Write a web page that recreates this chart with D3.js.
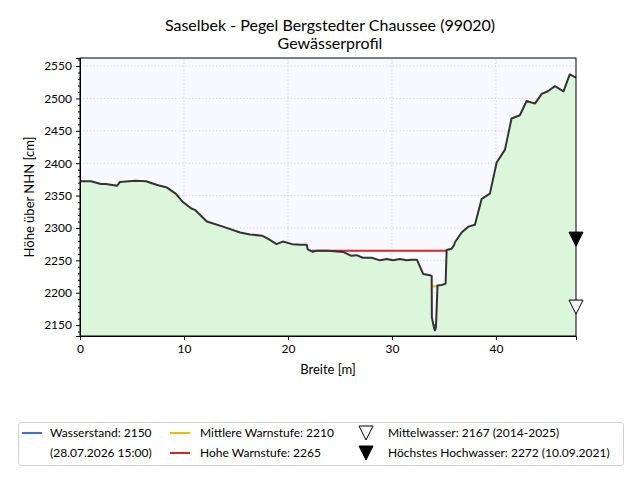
<!DOCTYPE html>
<html>
<head>
<meta charset="utf-8">
<script src="https://cdn.jsdelivr.net/npm/d3@7"></script>
<style>
  body { margin: 0; background: #fff; }
  svg { font-family: Lato, "Open Sans", sans-serif; }
</style>
</head>
<body>
<div id="chart"></div>
<script>
// Gewässerprofil (Breite in m, Höhe in cm über NHN)
const profileX = [0, 1.06, 2.0, 2.5, 3.56, 3.85, 5.3, 6.35, 7.5, 8.3, 9.2, 9.9, 10.7, 11.05,
    12.2, 13.75, 15.4, 16.35, 17.5, 18.1, 18.9, 19.5, 20.4, 21.25, 21.8, 21.9, 22.4, 22.75,
    23.85, 25.3, 26.1, 26.6, 27.2, 28.05, 28.85, 29.5, 30.1, 30.77, 31.4, 31.9, 32.4, 33.0,
    33.65, 33.82, 33.84, 34.04, 34.13, 34.23, 34.38, 34.78, 35.16, 35.26, 35.74, 35.96, 36.06,
    36.7, 37.34, 37.98, 38.63, 39.42, 40.07, 40.87, 41.5, 42.3, 42.95, 43.75, 44.4, 45.0,
    45.67, 46.5, 47.1, 47.7];
const profileY = [2372, 2372, 2368, 2368, 2365, 2371, 2373, 2372, 2366, 2363, 2353, 2340, 2330, 2328,
    2310, 2302, 2293, 2290, 2288, 2283, 2275, 2279, 2275, 2274, 2274, 2267, 2263, 2265,
    2265, 2263, 2257, 2258, 2254, 2254, 2250, 2252, 2250, 2252, 2250, 2251, 2251, 2229,
    2227, 2226, 2162, 2146, 2142, 2146, 2211, 2212, 2214, 2266, 2268, 2273, 2278,
    2293, 2302, 2305, 2345, 2353, 2401, 2421, 2469, 2474, 2496, 2492, 2507, 2511,
    2519, 2511, 2537, 2532];

const levelNames = ["Wasserstand", "Mittlere Warnstufe", "Hohe Warnstufe"];
const levelValues = [2150, 2210, 2265];
const levelColors = ["#4169e1", "#ffb400", "#d62728"];

const markNames = ["Mittelwasser", "Höchstes Hochwasser"];
const markValues = [2167, 2272];
const markNotes = ["(2014-2025)", "(10.09.2021)"];
const markFilled = [false, true];

const xTicks = [0, 10, 20, 30, 40];
const yTicks = [2150, 2200, 2250, 2300, 2350, 2400, 2450, 2500, 2550];

const width = 640, height = 480;
const margin = { top: 58, right: 64, bottom: 144, left: 80 };

const svg = d3.select("#chart").append("svg")
    .attr("width", width).attr("height", height);

const x = d3.scaleLinear().domain([0, 47.7]).range([margin.left, width - margin.right]);
const y = d3.scaleLinear().domain([2133.2, 2562.4]).range([height - margin.bottom, margin.top]);

const profile = profileX.map((d, i) => [d, profileY[i]]);

// plot background
svg.append("rect")
    .attr("x", x(0)).attr("y", y(2562.4))
    .attr("width", x(47.7) - x(0)).attr("height", y(2133.2) - y(2562.4))
    .attr("fill", "#f8f8ff");

// grid
const grid = svg.append("g").attr("stroke", "#c8c8c8").attr("stroke-width", 0.8)
    .attr("stroke-dasharray", "1.2,2.2");
grid.selectAll(".gx").data(xTicks.slice(1)).join("line")
    .attr("x1", d => x(d)).attr("x2", d => x(d))
    .attr("y1", y.range()[0]).attr("y2", y.range()[1]);
grid.selectAll(".gy").data(yTicks).join("line")
    .attr("y1", d => y(d)).attr("y2", d => y(d))
    .attr("x1", x.range()[0]).attr("x2", x.range()[1]);

// terrain fill
svg.append("path").datum(profile)
    .attr("fill", "#dcf6dc")
    .attr("d", d3.area().x(d => x(d[0])).y0(y(2133.2)).y1(d => y(d[1])));

// water level lines: continuous span around the deepest point
function span(level) {
    let m = d3.minIndex(profileY);
    let l = m, r = m;
    while (l > 0 && profileY[l - 1] <= level) l--;
    while (r < profileY.length - 1 && profileY[r + 1] <= level) r++;
    const cross = (a, b) => profileX[a] + (profileX[b] - profileX[a]) * (level - profileY[a]) / (profileY[b] - profileY[a]);
    return [l > 0 ? cross(l - 1, l) : profileX[0], r < profileY.length - 1 ? cross(r, r + 1) : profileX[r]];
}
levelValues.forEach((v, i) => {
    const s = span(v);
    svg.append("line")
        .attr("x1", x(s[0])).attr("x2", x(s[1]))
        .attr("y1", y(v)).attr("y2", y(v))
        .attr("stroke", levelColors[i]).attr("stroke-width", 2);
});

// terrain line
svg.append("path").datum(profile)
    .attr("fill", "none").attr("stroke", "#333").attr("stroke-width", 2)
    .attr("stroke-linejoin", "round")
    .attr("d", d3.line().x(d => x(d[0])).y(d => y(d[1])));

// axes
const gx = svg.append("g").attr("transform", `translate(0,${y.range()[0]})`)
    .call(d3.axisBottom(x).tickValues(xTicks).tickSize(4).tickPadding(4));
const gy = svg.append("g").attr("transform", `translate(${x.range()[0]},0)`)
    .call(d3.axisLeft(y).tickValues(yTicks).tickFormat(d3.format("d")).tickSize(4).tickPadding(4));
svg.append("g").attr("transform", `translate(${x.range()[0]},0)`)
    .call(d3.axisLeft(y).tickValues(d3.range(2140, 2561, 10).filter(d => d % 50)).tickSize(2).tickFormat(""))
    .call(g => g.select(".domain").remove());
[gx, gy].forEach(g => g.selectAll("text").attr("font-size", 12).attr("fill", "#000")
    .attr("font-family", "Lato, sans-serif"));

// frame
svg.append("rect")
    .attr("x", x.range()[0]).attr("y", y.range()[1])
    .attr("width", x.range()[1] - x.range()[0]).attr("height", y.range()[0] - y.range()[1])
    .attr("fill", "none").attr("stroke", "#000").attr("stroke-width", 1);

// markers at right edge (tip at value)
const tri = "M-7,-14L7,-14L0,0Z";
markValues.forEach((v, i) => {
    svg.append("path")
        .attr("transform", `translate(${x(47.7)},${y(v)})`)
        .attr("d", tri)
        .attr("fill", markFilled[i] ? "#000" : "#fff")
        .attr("stroke", "#000").attr("stroke-width", 1);
});

// titles
svg.append("text").attr("x", 330).attr("y", 31).attr("text-anchor", "middle")
    .attr("font-size", 16).text("Saselbek - Pegel Bergstedter Chaussee (99020)");
svg.append("text").attr("x", 330).attr("y", 49).attr("text-anchor", "middle")
    .attr("font-size", 16).text("Gewässerprofil");
svg.append("text").attr("x", (x.range()[0] + x.range()[1]) / 2).attr("y", 374)
    .attr("text-anchor", "middle").attr("font-size", 13).text("Breite [m]");
svg.append("text").attr("transform", `translate(34,${(y.range()[0] + y.range()[1]) / 2}) rotate(-90)`)
    .attr("text-anchor", "middle").attr("font-size", 13).text("Höhe über NHN [cm]");

// legend
const lg = svg.append("g").attr("font-size", 12);
lg.append("rect").attr("x", 18.5).attr("y", 422.5).attr("width", 605).attr("height", 43)
    .attr("rx", 3).attr("fill", "#fff").attr("stroke", "#d0d0d0");
const row1 = 433, row2 = 453;
lg.append("line").attr("x1", 22).attr("x2", 42).attr("y1", row1).attr("y2", row1)
    .attr("stroke", levelColors[0]).attr("stroke-width", 2);
lg.append("text").attr("x", 50).attr("y", row1 + 4).text(`${levelNames[0]}: ${levelValues[0]}`);
lg.append("text").attr("x", 50).attr("y", row2 + 4).text("(28.07.2026 15:00)");
[1, 2].forEach((k, j) => {
    const ry = j === 0 ? row1 : row2;
    lg.append("line").attr("x1", 170).attr("x2", 190).attr("y1", ry).attr("y2", ry)
        .attr("stroke", levelColors[k]).attr("stroke-width", 2);
    lg.append("text").attr("x", 200).attr("y", ry + 4).text(`${levelNames[k]}: ${levelValues[k]}`);
});
markValues.forEach((v, i) => {
    const ry = i === 0 ? row1 : row2;
    lg.append("path").attr("transform", `translate(366,${ry + 7})`).attr("d", tri)
        .attr("fill", markFilled[i] ? "#000" : "#fff").attr("stroke", "#000");
    lg.append("text").attr("x", 388).attr("y", ry + 4).text(`${markNames[i]}: ${v} ${markNotes[i]}`);
});
</script>
</body>
</html>
